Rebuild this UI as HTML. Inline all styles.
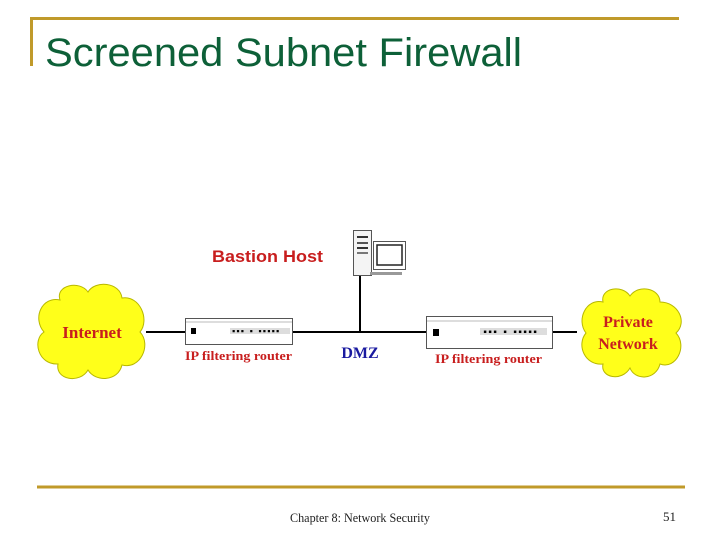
<!DOCTYPE html>
<html><head><meta charset="utf-8"><style>
html,body{margin:0;padding:0;background:#fff;}
svg{display:block;}
</style></head><body>
<svg width="720" height="540" viewBox="0 0 720 540" xmlns="http://www.w3.org/2000/svg">
<rect width="720" height="540" fill="#fff"/>
<line x1="30" y1="18.5" x2="679" y2="18.5" stroke="#c09a2a" stroke-width="3"/>
<line x1="31.5" y1="17" x2="31.5" y2="66" stroke="#c09a2a" stroke-width="3"/>
<text x="45" y="66" font-family="Liberation Sans, sans-serif" font-size="40" fill="#0d6038" textLength="477" lengthAdjust="spacingAndGlyphs">Screened Subnet Firewall</text>
<line x1="37" y1="487" x2="685" y2="487" stroke="#c09a2a" stroke-width="3"/>
<text x="290" y="522" font-family="Liberation Serif, serif" font-size="13" fill="#222" textLength="140" lengthAdjust="spacingAndGlyphs">Chapter 8: Network Security</text>
<text x="663" y="521" font-family="Liberation Serif, serif" font-size="13" fill="#222">51</text>

<line x1="146" y1="332" x2="577" y2="332" stroke="#000" stroke-width="2"/>
<line x1="360" y1="276" x2="360" y2="332" stroke="#000" stroke-width="2"/>

<g fill="#ffff1a" stroke="#b8b800" stroke-width="1">
<path d="M60,300 C55,285 80,280 88,292 C95,280 120,282 122,298 C140,295 150,320 140,332 C152,345 140,370 122,365 C118,382 95,382 88,370 C80,384 55,380 58,364 C38,365 32,340 44,332 C32,318 42,296 60,300 Z"/>
<path d="M603,302 C600,288 622,284 630,296 C638,284 660,288 660,302 C678,302 688,322 676,333 C688,346 676,370 660,364 C656,380 635,381 630,368 C622,382 600,378 603,364 C585,366 576,345 586,333 C576,320 586,298 603,302 Z"/>
</g>
<text x="92" y="338" text-anchor="middle" font-family="Liberation Serif, serif" font-weight="bold" font-size="17" fill="#c81e1e">Internet</text>
<text x="628" y="327" text-anchor="middle" font-family="Liberation Serif, serif" font-weight="bold" font-size="16" fill="#c81e1e">Private</text>
<text x="628" y="349" text-anchor="middle" font-family="Liberation Serif, serif" font-weight="bold" font-size="16" fill="#c81e1e">Network</text>

<rect x="185.5" y="318.5" width="107" height="26" fill="#fff" stroke="#555"/>
<line x1="186" y1="322" x2="292" y2="322" stroke="#bbb"/>
<rect x="191" y="328" width="5" height="6" fill="#000"/>
<rect x="230" y="328" width="60" height="6" fill="#ddd"/>
<text x="231" y="334" font-family="Liberation Mono, monospace" font-size="9" font-weight="bold" fill="#000" letter-spacing="-1">▪▪▪ ▪ ▪▪▪▪▪</text>
<text x="185" y="360" font-family="Liberation Serif, serif" font-weight="bold" font-size="13" fill="#c81e1e" textLength="107" lengthAdjust="spacingAndGlyphs">IP filtering router</text>

<rect x="426.5" y="316.5" width="126" height="32" fill="#fff" stroke="#555"/>
<line x1="427" y1="321" x2="552" y2="321" stroke="#bbb"/>
<rect x="433" y="329" width="6" height="7" fill="#000"/>
<rect x="480" y="328" width="67" height="7" fill="#ddd"/>
<text x="482" y="335" font-family="Liberation Mono, monospace" font-size="10" font-weight="bold" fill="#000" letter-spacing="-1">▪▪▪ ▪ ▪▪▪▪▪</text>
<text x="435" y="363" font-family="Liberation Serif, serif" font-weight="bold" font-size="13" fill="#c81e1e" textLength="107" lengthAdjust="spacingAndGlyphs">IP filtering router</text>

<text x="360" y="358" text-anchor="middle" font-family="Liberation Serif, serif" font-weight="bold" font-size="16" fill="#1a1aa0">DMZ</text>
<text x="212" y="262" font-family="Liberation Sans, sans-serif" font-weight="bold" font-size="17" fill="#c81e1e" textLength="111" lengthAdjust="spacingAndGlyphs">Bastion Host</text>

<rect x="353.5" y="230.5" width="18" height="45" fill="#f4f4f4" stroke="#555"/>
<rect x="357" y="236" width="11" height="2" fill="#333"/>
<rect x="357" y="242" width="11" height="2" fill="#555"/>
<rect x="357" y="247" width="11" height="2" fill="#333"/>
<rect x="357" y="252" width="11" height="2" fill="#777"/>
<rect x="373.5" y="241.5" width="32" height="28" fill="#fff" stroke="#555"/>
<rect x="377" y="245" width="25" height="20" fill="#fff" stroke="#222" stroke-width="1.5"/>
<rect x="370" y="272" width="32" height="3" fill="#999"/>
</svg>
</body></html>
